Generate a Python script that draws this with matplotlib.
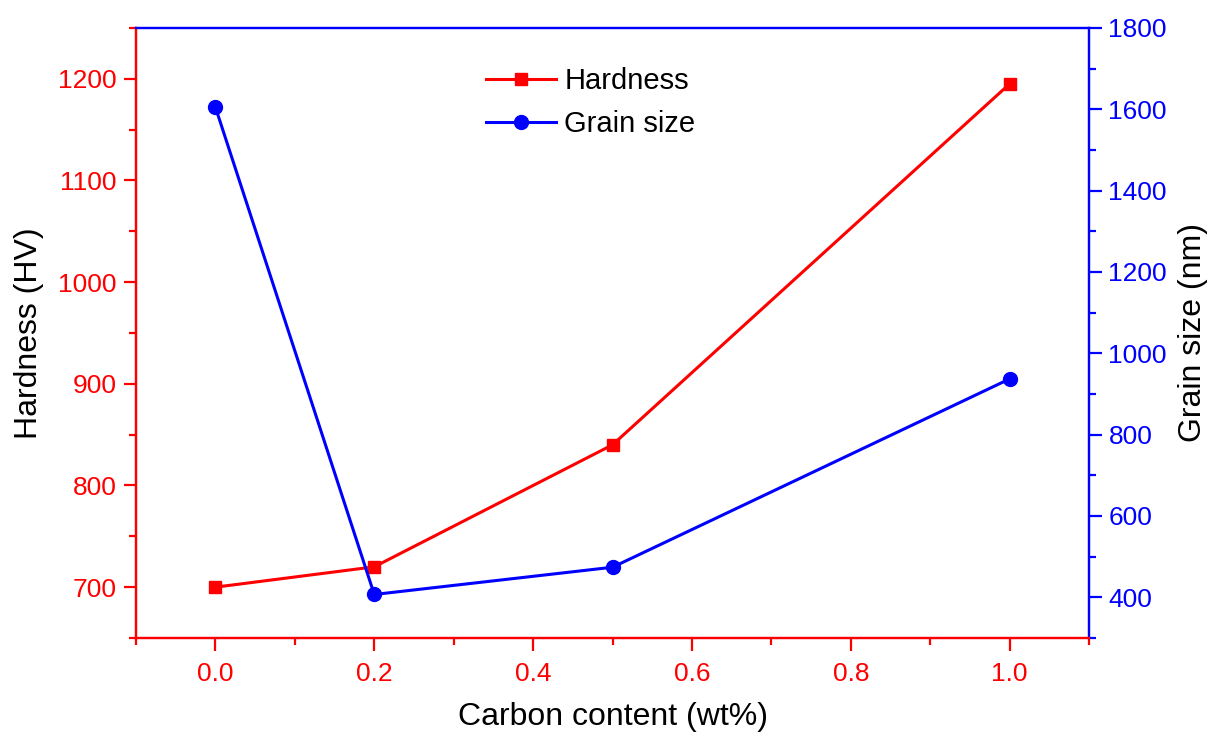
import numpy as np
import matplotlib
matplotlib.use('Agg')
import matplotlib.pyplot as plt
from matplotlib.ticker import MultipleLocator

plt.rcParams['font.family'] = ['Liberation Sans', 'DejaVu Sans']

# 数据
carbon = [0.0, 0.2, 0.5, 1.0]
hardness = [700, 720, 840, 1195]
grain_size = [1605, 407, 474, 937]

RED = '#ff0000'
BLUE = '#0000ff'

fig = plt.figure(figsize=(12.08, 7.34), dpi=100)
ax1 = fig.add_axes([0.1126, 0.1308, 0.7889, 0.8311])
ax2 = ax1.twinx()

l1, = ax1.plot(carbon, hardness, color=RED, marker='s', markersize=9,
               linewidth=2.2, label='Hardness')
l2, = ax2.plot(carbon, grain_size, color=BLUE, marker='o', markersize=10,
               linewidth=2.2, label='Grain size')

ax1.set_xlim(-0.1, 1.1)
ax1.set_ylim(650, 1250)
ax2.set_ylim(300, 1800)

ax1.xaxis.set_major_locator(MultipleLocator(0.2))
ax1.xaxis.set_minor_locator(MultipleLocator(0.1))
ax1.yaxis.set_major_locator(MultipleLocator(100))
ax1.yaxis.set_minor_locator(MultipleLocator(50))
ax2.yaxis.set_major_locator(MultipleLocator(200))
ax2.yaxis.set_minor_locator(MultipleLocator(100))
ax1.xaxis.set_major_formatter(plt.FormatStrFormatter('%.1f'))

# 坐标轴颜色
for ax in (ax1, ax2):
    ax.spines['left'].set_color(RED)
    ax.spines['bottom'].set_color(RED)
    ax.spines['right'].set_color(BLUE)
    ax.spines['top'].set_color(BLUE)
    for s in ax.spines.values():
        s.set_linewidth(1.6)

ax1.tick_params(axis='x', which='both', direction='out', colors=RED,
                labelsize=19, width=1.6, pad=8)
ax1.tick_params(axis='x', which='major', length=9)
ax1.tick_params(axis='x', which='minor', length=5)
ax1.tick_params(axis='y', which='both', direction='out', colors=RED,
                labelsize=19, width=1.6, pad=5)
ax1.tick_params(axis='y', which='major', length=9)
ax1.tick_params(axis='y', which='minor', length=5)
ax2.tick_params(axis='y', which='both', direction='out', colors=BLUE,
                labelsize=19, width=1.6, pad=5)
ax2.tick_params(axis='y', which='major', length=9)
ax2.tick_params(axis='y', which='minor', length=5)

ax1.set_xlabel('Carbon content (wt%)', fontsize=23, labelpad=12)
ax1.set_ylabel('Hardness (HV)', fontsize=23, labelpad=10)
ax2.set_ylabel('Grain size (nm)', fontsize=23, labelpad=8)

ax2.legend(handles=[l1, l2], loc='upper center', frameon=False,
           fontsize=21, handlelength=2.4, handletextpad=0.3,
           labelspacing=0.5, borderaxespad=0.95,
           bbox_to_anchor=(0.477, 1.0))

fig.savefig('out.png', dpi=100)
